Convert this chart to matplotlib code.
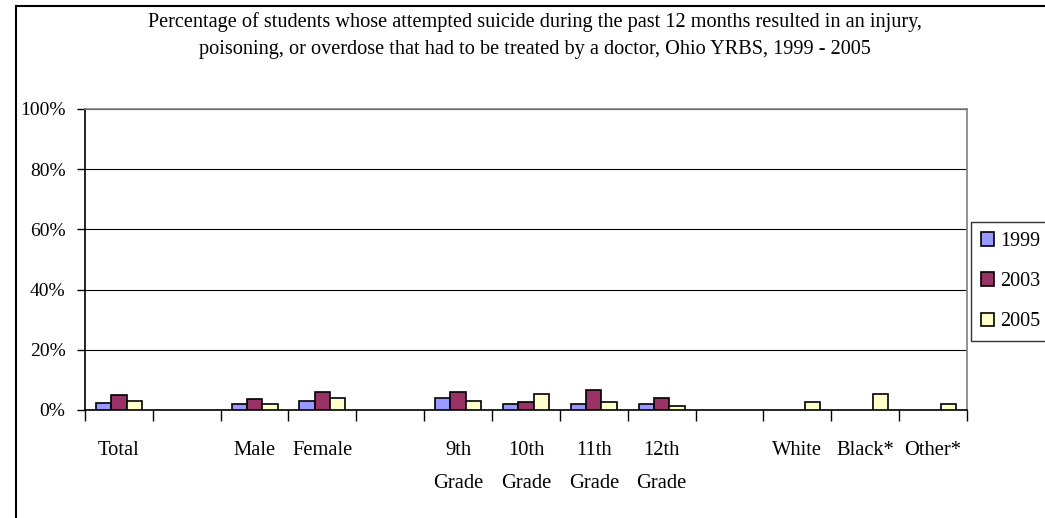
import numpy as np
import matplotlib
matplotlib.use("Agg")
import matplotlib.pyplot as plt
from matplotlib.patches import Rectangle

plt.rcParams["font.family"] = ["Liberation Serif", "DejaVu Serif"]

categories = ["Total", "", "Male", "Female", "", "9th\nGrade", "10th\nGrade",
              "11th\nGrade", "12th\nGrade", "", "White", "Black*", "Other*"]
years = ["1999", "2003", "2005"]
v1999 = [2.4, None, 1.9, 3.1, None, 3.9, 1.9, 1.9, 1.9, None, None, None, None]
v2003 = [5.1, None, 3.8, 5.9, None, 5.9, 2.5, 6.5, 3.9, None, None, None, None]
v2005 = [3.1, None, 1.9, 3.9, None, 3.1, 5.2, 2.5, 1.2, None, 2.5, 5.2, 1.9]
colors = ["#9999FF", "#993366", "#FFFFCC"]

title = ("Percentage of students whose attempted suicide during the past 12 months resulted in an injury,\n"
         "poisoning, or overdose that had to be treated by a doctor, Ohio YRBS, 1999 - 2005")

fig = plt.figure(figsize=(10.45, 5.18), dpi=100)
ax = fig.add_axes([0.0813, 0.2085, 0.844, 0.5811])

# outer chart border
fig.patches.append(Rectangle((16 / 1045, -0.05), 1.1, (518 - 6) / 518 + 0.05,
                             transform=fig.transFigure, fill=False,
                             edgecolor="black", linewidth=1.5))

x = np.arange(len(categories))
w = 0.226
for k, (vals, col, yr) in enumerate(zip([v1999, v2003, v2005], colors, years)):
    arr = np.array([np.nan if v is None else v for v in vals], dtype=float)
    ax.bar(x + (k - 1) * w, arr, width=w, color=col, edgecolor="black",
           linewidth=1.2, label=yr, zorder=3)

ax.set_xlim(-0.5, len(categories) - 0.5)
ax.set_ylim(0, 100)
ax.set_yticks([0, 20, 40, 60, 80, 100])
ax.set_yticklabels([f"{t}%" for t in [0, 20, 40, 60, 80, 100]], fontsize=14)
ax.yaxis.grid(True, color="black", linewidth=0.8, zorder=0)

ax.set_xticks(np.arange(-0.5, len(categories)), minor=False)
ax.set_xticklabels([])
ax.set_xticks(x, minor=True)
ax.set_xticklabels(categories, minor=True, fontsize=14.8, linespacing=2.05)
ax.tick_params(axis="x", which="minor", length=0, pad=22)
ax.tick_params(axis="x", which="major", length=8, direction="out", width=1)
ax.tick_params(axis="y", length=6, direction="out", width=1, pad=8)
for lab in ax.get_xticklabels(minor=True):
    lab.set_verticalalignment("top")

ax.spines["left"].set_color("black")
ax.spines["bottom"].set_color("black")
ax.spines["top"].set_color("#808080")
ax.spines["right"].set_color("#808080")
for s in ax.spines.values():
    s.set_linewidth(1.2)

fig.text(0.512, 0.976, title, ha="center", va="top", fontsize=14.6, linespacing=1.55)

leg = ax.legend(loc="upper left", bbox_to_anchor=(971 / 1045, (518 - 222) / 518),
                bbox_transform=fig.transFigure, fontsize=14.5, frameon=True,
                fancybox=False, edgecolor="black", handlelength=0.65,
                handleheight=0.65, handletextpad=0.3, labelspacing=1.05,
                borderpad=0.5, borderaxespad=0)
leg.get_frame().set_linewidth(1.0)

fig.savefig("out.png", dpi=100)
